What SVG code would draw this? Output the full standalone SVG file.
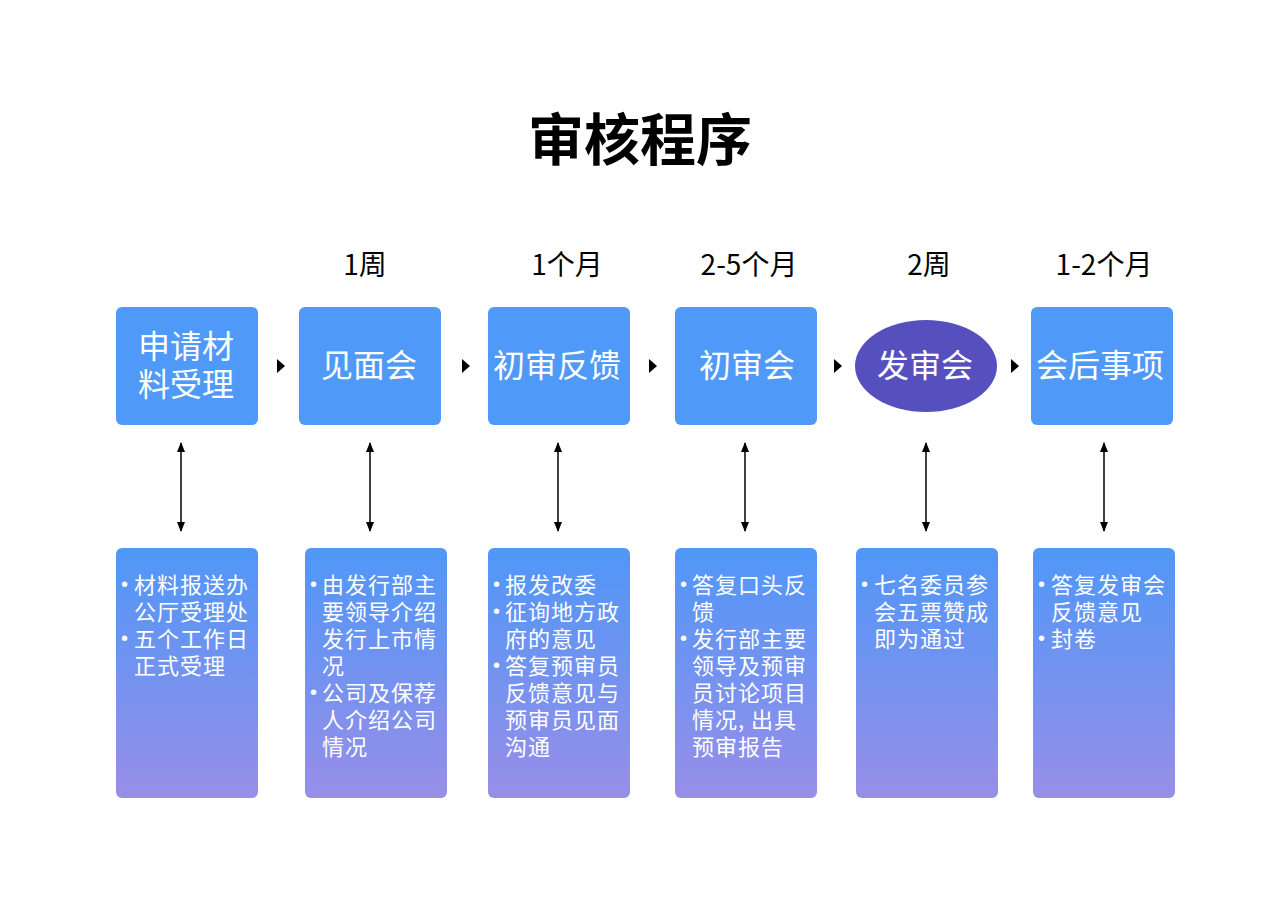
<svg xmlns="http://www.w3.org/2000/svg" width="1265" height="907" viewBox="0 0 1265 907">
<defs>
<linearGradient id="g" x1="0" y1="0" x2="0" y2="1">
<stop offset="0" stop-color="#4f97f8"/>
<stop offset="1" stop-color="#988ee8"/>
</linearGradient>
<marker id="ah" viewBox="0 0 10 10" refX="9" refY="5" markerWidth="10" markerHeight="10" markerUnits="userSpaceOnUse" orient="auto-start-reverse">
<path d="M0,1 L10,5 L0,9 z" fill="#000"/>
</marker>
</defs>
<style>
text{font-family:"Noto Sans CJK SC","Noto Sans",sans-serif}
.title{font-size:56px;font-weight:bold;fill:#000;text-anchor:middle}
.dur{font-size:28px;fill:#000;text-anchor:middle}
.top{fill:#4f9af8}
.tt{font-size:32px;fill:#fff;text-anchor:middle}
.bot{fill:url(#g)}
.bt{font-size:22px;fill:#fff;letter-spacing:1px}
.bu{font-family:"Liberation Sans",sans-serif;font-size:20px;fill:#fff}
.conn line{stroke:#000;stroke-width:1.5}
.tri{fill:#000}
</style>
<rect width="1265" height="907" fill="#fff"/>
<text class="title" x="640" y="160">审核程序</text>
<g id="durations">
<text class="dur" x="365" y="275">1周</text>
<text class="dur" x="567" y="275">1个月</text>
<text class="dur" x="749" y="275">2-5个月</text>
<text class="dur" x="929" y="275">2周</text>
<text class="dur" x="1104" y="275">1-2个月</text>
</g>
<g id="n1"><rect class="top" x="116" y="307" width="142" height="118" rx="6"/><text class="tt" x="186" y="358">申请材</text><text class="tt" x="186" y="396">料受理</text></g>
<g id="n2"><rect class="top" x="299" y="307" width="142" height="118" rx="6"/><text class="tt" x="369" y="377">见面会</text></g>
<g id="n3"><rect class="top" x="488" y="307" width="142" height="118" rx="6"/><text class="tt" x="557" y="377">初审反馈</text></g>
<g id="n4"><rect class="top" x="675" y="307" width="142" height="118" rx="6"/><text class="tt" x="747" y="377">初审会</text></g>
<g id="n5"><ellipse cx="926" cy="366" rx="71" ry="46" fill="#5650bf"/><text class="tt" x="925" y="377">发审会</text></g>
<g id="n6"><rect class="top" x="1031" y="307" width="142" height="118" rx="6"/><text class="tt" x="1100" y="377">会后事项</text></g>
<g id="d1"><rect class="bot" x="116" y="548" width="142" height="250" rx="6"/>
<text class="bu" x="121" y="591">•</text><text class="bu" x="121" y="645">•</text>
<text class="bt"><tspan x="134" y="593">材料报送办</tspan><tspan x="134" y="620">公厅受理处</tspan><tspan x="134" y="647">五个工作日</tspan><tspan x="134" y="674">正式受理</tspan></text></g>
<g id="d2"><rect class="bot" x="305" y="548" width="142" height="250" rx="6"/>
<text class="bu" x="310" y="591">•</text><text class="bu" x="310" y="699">•</text>
<text class="bt"><tspan x="322" y="593">由发行部主</tspan><tspan x="322" y="620">要领导介绍</tspan><tspan x="322" y="647">发行上市情</tspan><tspan x="322" y="674">况</tspan><tspan x="322" y="701">公司及保荐</tspan><tspan x="322" y="728">人介绍公司</tspan><tspan x="322" y="755">情况</tspan></text></g>
<g id="d3"><rect class="bot" x="488" y="548" width="142" height="250" rx="6"/>
<text class="bu" x="493" y="591">•</text><text class="bu" x="493" y="618">•</text><text class="bu" x="493" y="672">•</text>
<text class="bt"><tspan x="505" y="593">报发改委</tspan><tspan x="505" y="620">征询地方政</tspan><tspan x="505" y="647">府的意见</tspan><tspan x="505" y="674">答复预审员</tspan><tspan x="505" y="701">反馈意见与</tspan><tspan x="505" y="728">预审员见面</tspan><tspan x="505" y="755">沟通</tspan></text></g>
<g id="d4"><rect class="bot" x="675" y="548" width="142" height="250" rx="6"/>
<text class="bu" x="680" y="591">•</text><text class="bu" x="680" y="645">•</text>
<text class="bt"><tspan x="692" y="593">答复口头反</tspan><tspan x="692" y="620">馈</tspan><tspan x="692" y="647">发行部主要</tspan><tspan x="692" y="674">领导及预审</tspan><tspan x="692" y="701">员讨论项目</tspan><tspan x="692" y="728">情况, 出具</tspan><tspan x="692" y="755">预审报告</tspan></text></g>
<g id="d5"><rect class="bot" x="856" y="548" width="142" height="250" rx="6"/>
<text class="bu" x="861" y="591">•</text>
<text class="bt"><tspan x="874" y="593">七名委员参</tspan><tspan x="874" y="620">会五票赞成</tspan><tspan x="874" y="647">即为通过</tspan></text></g>
<g id="d6"><rect class="bot" x="1033" y="548" width="142" height="250" rx="6"/>
<text class="bu" x="1038" y="591">•</text><text class="bu" x="1038" y="645">•</text>
<text class="bt"><tspan x="1051" y="593">答复发审会</tspan><tspan x="1051" y="620">反馈意见</tspan><tspan x="1051" y="647">封卷</tspan></text></g>
<g id="connectors" class="conn">
<path class="tri" d="M277,359 L285,366 L277,373 z"/>
<path class="tri" d="M462,359 L470,366 L462,373 z"/>
<path class="tri" d="M649,359 L657,366 L649,373 z"/>
<path class="tri" d="M834,359 L842,366 L834,373 z"/>
<path class="tri" d="M1011,359 L1019,366 L1011,373 z"/>
<line x1="181" y1="443" x2="181" y2="531" marker-start="url(#ah)" marker-end="url(#ah)"/>
<line x1="370" y1="443" x2="370" y2="531" marker-start="url(#ah)" marker-end="url(#ah)"/>
<line x1="558" y1="443" x2="558" y2="531" marker-start="url(#ah)" marker-end="url(#ah)"/>
<line x1="745" y1="443" x2="745" y2="531" marker-start="url(#ah)" marker-end="url(#ah)"/>
<line x1="926" y1="443" x2="926" y2="531" marker-start="url(#ah)" marker-end="url(#ah)"/>
<line x1="1104" y1="443" x2="1104" y2="531" marker-start="url(#ah)" marker-end="url(#ah)"/>
</g>
</svg>
